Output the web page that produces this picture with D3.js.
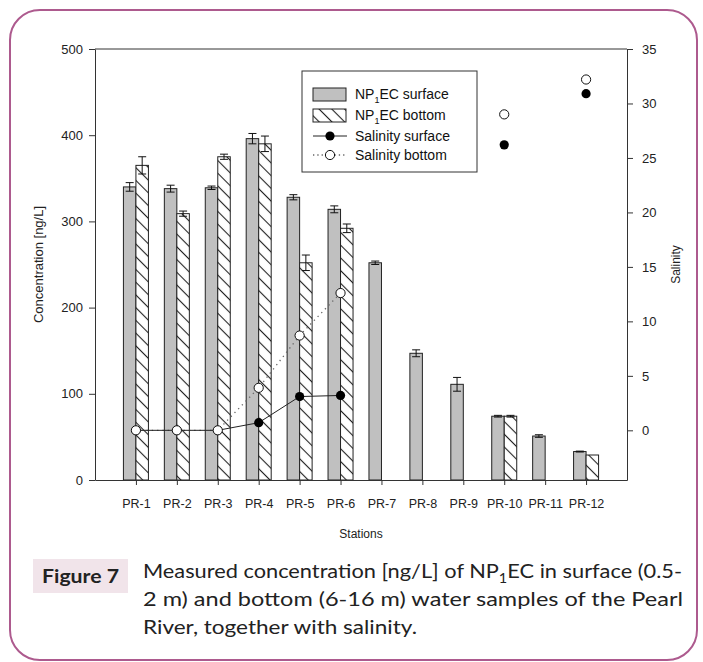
<!DOCTYPE html>
<html>
<head>
<meta charset="utf-8">
<title>NP1EC Pearl River</title>
<script src="https://cdn.jsdelivr.net/npm/d3@7/dist/d3.min.js"></script>
<style>
    body { margin: 0; background: #fff; }
    .axis text { font-family: "Liberation Sans", Arial, sans-serif; fill: #222; }
    .axis line, .axis path { stroke: #333; }
</style>
</head>
<body>
<div id="chart"></div>
<script>
    // data
    var stations = ["PR-1", "PR-2", "PR-3", "PR-4", "PR-5", "PR-6", "PR-7", "PR-8", "PR-9", "PR-10", "PR-11", "PR-12"];
    var surfaceConc = [340, 338, 339, 396, 328, 314, 252, 147, 111, 74, 51, 33];
    var surfaceErr  = [5, 4, 2, 6, 3, 4, 2, 4, 8, 1, 1.5, 0.5];
    var bottomConc  = [365, 309, 375, 390, 252, 292, null, null, null, 74, null, 29];
    var bottomErr   = [10, 3, 3, 9, 9, 5, null, null, null, 1, null, 0];
    var salinitySurface = [0, 0, 0, 0.7, 3.1, 3.2, null, null, null, 26.2, null, 30.9];
    var salinityBottom  = [0, 0, 0, 3.9, 8.7, 12.6, null, null, null, 29.0, null, 32.2];
    var concTicks = [0, 100, 200, 300, 400, 500];
    var salTicks = [0, 5, 10, 15, 20, 25, 30, 35];

    var W = 703, H = 662;
    var plot = {left: 95, right: 627, top: 49, bottom: 480};
    var barW = 12.5;
    var grey = "#c0c0c0";

    var svg = d3.select("#chart").append("svg")
        .attr("width", W)
        .attr("height", H);

    var defs = svg.append("defs");
    var pat = defs.append("pattern")
        .attr("id", "hatch")
        .attr("patternUnits", "userSpaceOnUse")
        .attr("width", 9)
        .attr("height", 9)
        .attr("patternTransform", "rotate(-45)");
    pat.append("rect").attr("width", 9).attr("height", 9).attr("fill", "#fff");
    pat.append("line")
        .attr("x1", 4.5).attr("y1", 0).attr("x2", 4.5).attr("y2", 9)
        .attr("stroke", "#222").attr("stroke-width", 1.1);

    // frame
    svg.append("rect")
        .attr("x", 10).attr("y", 10)
        .attr("width", 687).attr("height", 650)
        .attr("rx", 30).attr("ry", 30)
        .attr("fill", "none")
        .attr("stroke", "#ad5a8e")
        .attr("stroke-width", 2);

    var x = d3.scalePoint()
        .domain(stations)
        .range([plot.left, plot.right])
        .padding(1);
    var yC = d3.scaleLinear()
        .domain([0, 500])
        .range([plot.bottom, plot.top]);
    var yS = d3.scaleLinear()
        .domain([-4.56, 35])
        .range([plot.bottom, plot.top]);

    var g = svg.append("g");

    var rows = stations.map(function(s, i) {
        return {st: s, sc: surfaceConc[i], se: surfaceErr[i], bc: bottomConc[i], be: bottomErr[i]};
    });

    // surface bars
    g.selectAll(".bar-s")
        .data(rows).enter()
        .append("rect")
        .attr("class", "bar-s")
        .attr("x", function(d) { return x(d.st) - barW; })
        .attr("y", function(d) { return yC(d.sc); })
        .attr("width", barW)
        .attr("height", function(d) { return yC(0) - yC(d.sc); })
        .attr("fill", grey)
        .attr("stroke", "#222")
        .attr("stroke-width", 1);

    // bottom bars
    g.selectAll(".bar-b")
        .data(rows.filter(function(d) { return d.bc != null; })).enter()
        .append("rect")
        .attr("class", "bar-b")
        .attr("x", function(d) { return x(d.st); })
        .attr("y", function(d) { return yC(d.bc); })
        .attr("width", barW)
        .attr("height", function(d) { return yC(0) - yC(d.bc); })
        .attr("fill", "url(#hatch)")
        .attr("stroke", "#222")
        .attr("stroke-width", 1);

    // error bars
    function errBar(cx, v, e) {
        if (v == null || !e) return;
        var eg = g.append("g").attr("stroke", "#111").attr("stroke-width", 1);
        eg.append("line").attr("x1", cx).attr("x2", cx).attr("y1", yC(v - e)).attr("y2", yC(v + e));
        eg.append("line").attr("x1", cx - 4).attr("x2", cx + 4).attr("y1", yC(v + e)).attr("y2", yC(v + e));
        eg.append("line").attr("x1", cx - 4).attr("x2", cx + 4).attr("y1", yC(v - e)).attr("y2", yC(v - e));
    }
    rows.forEach(function(d) {
        errBar(x(d.st) - barW / 2, d.sc, d.se);
        errBar(x(d.st) + barW / 2, d.bc, d.be);
    });

    // salinity lines
    var lineS = d3.line()
        .defined(function(d) { return d.v != null; })
        .x(function(d) { return x(d.st); })
        .y(function(d) { return yS(d.v); });

    var salS = stations.map(function(s, i) { return {st: s, v: salinitySurface[i]}; });
    var salB = stations.map(function(s, i) { return {st: s, v: salinityBottom[i]}; });

    g.append("path")
        .datum(salB)
        .attr("d", lineS)
        .attr("fill", "none")
        .attr("stroke", "#666")
        .attr("stroke-width", 1.3)
        .attr("stroke-dasharray", "1.3,4");

    g.append("path")
        .datum(salS)
        .attr("d", lineS)
        .attr("fill", "none")
        .attr("stroke", "#222")
        .attr("stroke-width", 1);

    g.selectAll(".pt-s")
        .data(salS.filter(function(d) { return d.v != null; })).enter()
        .append("circle")
        .attr("cx", function(d) { return x(d.st); })
        .attr("cy", function(d) { return yS(d.v); })
        .attr("r", 4.6)
        .attr("fill", "#000");

    g.selectAll(".pt-b")
        .data(salB.filter(function(d) { return d.v != null; })).enter()
        .append("circle")
        .attr("cx", function(d) { return x(d.st); })
        .attr("cy", function(d) { return yS(d.v); })
        .attr("r", 4.6)
        .attr("fill", "#fff")
        .attr("stroke", "#111")
        .attr("stroke-width", 1);

    // axes
    svg.append("g")
        .attr("class", "axis")
        .attr("transform", "translate(" + plot.left + ",0)")
        .call(d3.axisLeft(yC).tickValues(concTicks).tickSize(6).tickSizeOuter(0).tickPadding(6))
        .attr("font-size", "13px");

    svg.append("g")
        .attr("class", "axis")
        .attr("transform", "translate(" + plot.right + ",0)")
        .call(d3.axisRight(yS).tickValues(salTicks).tickSize(6).tickSizeOuter(0).tickPadding(9))
        .attr("font-size", "13px");

    svg.append("g")
        .attr("class", "axis")
        .attr("transform", "translate(0," + plot.bottom + ")")
        .call(d3.axisBottom(x).tickSize(5).tickSizeOuter(0).tickPadding(14))
        .attr("font-size", "12.5px");

    svg.append("line")
        .attr("x1", plot.left).attr("x2", plot.right)
        .attr("y1", plot.top).attr("y2", plot.top)
        .attr("stroke", "#333");

    var font = "Liberation Sans, Arial, sans-serif";
    svg.append("text")
        .attr("transform", "translate(38," + (plot.top + plot.bottom) / 2 + ") rotate(-90)")
        .attr("text-anchor", "middle")
        .attr("dy", "0.35em")
        .attr("font-family", font).attr("font-size", "13px").attr("fill", "#222")
        .text("Concentration [ng/L]");

    svg.append("text")
        .attr("transform", "translate(676," + (plot.top + plot.bottom) / 2 + ") rotate(-90)")
        .attr("text-anchor", "middle")
        .attr("dy", "0.35em")
        .attr("font-family", font).attr("font-size", "12px").attr("fill", "#222")
        .text("Salinity");

    svg.append("text")
        .attr("x", (plot.left + plot.right) / 2)
        .attr("y", 538)
        .attr("text-anchor", "middle")
        .attr("font-family", font).attr("font-size", "12px").attr("fill", "#222")
        .text("Stations");

    // legend
    var lg = svg.append("g").attr("font-family", font).attr("font-size", "14px").attr("fill", "#111");
    lg.append("rect")
        .attr("x", 302).attr("y", 71).attr("width", 175).attr("height", 101)
        .attr("fill", "#fff").attr("stroke", "#333");

    function legendLabel(yc, parts) {
        var t = lg.append("text").attr("x", 355).attr("y", yc).attr("dy", "0.35em");
        t.append("tspan").text(parts[0]);
        if (parts.length > 1) {
            t.append("tspan").attr("dy", 4).attr("font-size", "9px").text(parts[1]);
            t.append("tspan").attr("dy", -4).text(parts[2]);
        }
    }
    lg.append("rect").attr("x", 313).attr("y", 88).attr("width", 33).attr("height", 13)
        .attr("fill", grey).attr("stroke", "#222");
    legendLabel(94, ["NP", "1", "EC surface"]);
    lg.append("rect").attr("x", 313).attr("y", 109).attr("width", 33).attr("height", 13)
        .attr("fill", "url(#hatch)").attr("stroke", "#222");
    legendLabel(115, ["NP", "1", "EC bottom"]);
    lg.append("line").attr("x1", 313).attr("x2", 347).attr("y1", 136).attr("y2", 136)
        .attr("stroke", "#222");
    lg.append("circle").attr("cx", 330).attr("cy", 136).attr("r", 4.6).attr("fill", "#000");
    legendLabel(136, ["Salinity surface"]);
    lg.append("line").attr("x1", 313).attr("x2", 347).attr("y1", 155).attr("y2", 155)
        .attr("stroke", "#666").attr("stroke-width", 1.3).attr("stroke-dasharray", "1.3,3");
    lg.append("circle").attr("cx", 330).attr("cy", 155).attr("r", 4.6)
        .attr("fill", "#fff").attr("stroke", "#111");
    legendLabel(155, ["Salinity bottom"]);

    // caption
    var capFont = "Lato, 'Open Sans', sans-serif";
    svg.append("rect")
        .attr("x", 33).attr("y", 559).attr("width", 95).attr("height", 34)
        .attr("fill", "#f1e4ea");
    svg.append("text")
        .attr("x", 42).attr("y", 583)
        .attr("font-family", capFont).attr("font-weight", "bold").attr("font-size", "19px")
        .attr("fill", "#222")
        .attr("textLength", 77).attr("lengthAdjust", "spacingAndGlyphs")
        .text("Figure 7");

    var c1 = svg.append("text")
        .attr("x", 143).attr("y", 578)
        .attr("font-family", capFont).attr("font-size", "19.5px").attr("fill", "#222")
        .attr("textLength", 539).attr("lengthAdjust", "spacingAndGlyphs");
    c1.append("tspan").text("Measured concentration [ng/L] of NP");
    c1.append("tspan").attr("dy", 5).attr("font-size", "13px").text("1");
    c1.append("tspan").attr("dy", -5).text("EC in surface (0.5-");

    svg.append("text")
        .attr("x", 143).attr("y", 606)
        .attr("font-family", capFont).attr("font-size", "19.5px").attr("fill", "#222")
        .attr("textLength", 540).attr("lengthAdjust", "spacingAndGlyphs")
        .text("2 m) and bottom (6-16 m) water samples of the Pearl");

    svg.append("text")
        .attr("x", 143).attr("y", 634)
        .attr("font-family", capFont).attr("font-size", "19.5px").attr("fill", "#222")
        .attr("textLength", 274).attr("lengthAdjust", "spacingAndGlyphs")
        .text("River, together with salinity.");
</script>
</body>
</html>
